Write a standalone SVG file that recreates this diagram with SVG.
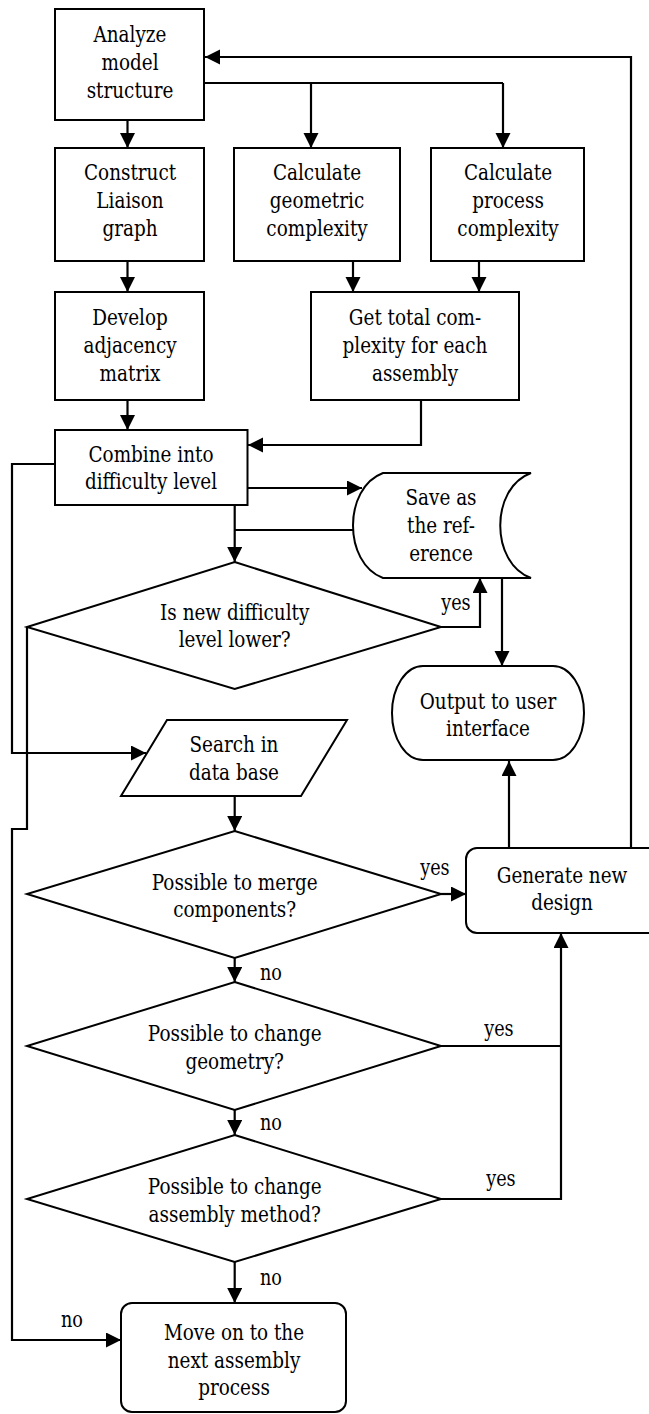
<svg xmlns="http://www.w3.org/2000/svg" width="649" height="1414" viewBox="0 0 649 1414">
  <defs>
    <marker id="arrow" markerUnits="userSpaceOnUse" markerWidth="16" markerHeight="16" refX="15" refY="7.5" orient="auto">
      <path d="M0,0 L15,7.5 L0,15 Z" fill="#000"/>
    </marker>
    <style>
      .box { fill: #fff; stroke: #000; stroke-width: 2; }
      .line { fill: none; stroke: #000; stroke-width: 2.2; }
      .arr { marker-end: url(#arrow); }
      text { font-family: "DejaVu Serif", "Liberation Serif", serif; font-size: 23px; fill: #000; text-anchor: middle;
             transform-box: fill-box; transform-origin: center; transform: scaleX(0.8); }
      .lbl { font-size: 22px; }
    </style>
  </defs>
  <rect width="649" height="1414" fill="#fff"/>

  <!-- connectors -->
  <g id="connectors">
    <path class="line arr" d="M127.5,120 V148"/>
    <path class="line" d="M204,83 H503"/>
    <path class="line arr" d="M503,83 V148"/>
    <path class="line arr" d="M311,83 V148"/>
    <path class="line arr" d="M631,848 V57 H205"/>
    <path class="line arr" d="M127.5,261 V292"/>
    <path class="line arr" d="M353,261 V292"/>
    <path class="line arr" d="M479,261 V292"/>
    <path class="line arr" d="M127.5,400 V430"/>
    <path class="line arr" d="M421,400 V445 H248"/>
    <path class="line arr" d="M248,488 H362"/>
    <path class="line arr" d="M234.7,505 V562"/>
    <path class="line" d="M353,530 H234.7"/>
    <path class="line arr" d="M441,627 H480 V578"/>
    <path class="line arr" d="M502,578 V666"/>
    <path class="line arr" d="M55,464 H12 V753 H146"/>
    <path class="line arr" d="M27,627 V829 H12 V1340 H121"/>
    <path class="line arr" d="M234.7,796 V831"/>
    <path class="line arr" d="M441,894 H466"/>
    <path class="line arr" d="M509,848 V761"/>
    <path class="line arr" d="M234.7,958 V982"/>
    <path class="line" d="M441,1046 H561"/>
    <path class="line arr" d="M441,1199 H561 V933"/>
    <path class="line arr" d="M234.7,1110 V1135"/>
    <path class="line arr" d="M234.7,1262 V1303"/>
    <text class="lbl" x="456" y="610">yes</text>
    <text class="lbl" x="435" y="875">yes</text>
    <text class="lbl" x="499" y="1036">yes</text>
    <text class="lbl" x="501" y="1186">yes</text>
    <text class="lbl" x="271" y="980">no</text>
    <text class="lbl" x="271" y="1130">no</text>
    <text class="lbl" x="271" y="1285">no</text>
    <text class="lbl" x="72" y="1327">no</text>
  </g>

  <g id="analyze">
    <rect class="box" x="55" y="9" width="149" height="111"/>
    <text x="130" y="42">Analyze</text>
    <text x="130" y="70">model</text>
    <text x="130" y="98">structure</text>
  </g>

  <g id="construct">
    <rect class="box" x="55" y="148" width="149" height="113"/>
    <text x="130" y="180">Construct</text>
    <text x="130" y="208">Liaison</text>
    <text x="130" y="236">graph</text>
  </g>

  <g id="calc-geometric">
    <rect class="box" x="234" y="148" width="166" height="113"/>
    <text x="317" y="180">Calculate</text>
    <text x="317" y="208">geometric</text>
    <text x="317" y="236">complexity</text>
  </g>

  <g id="calc-process">
    <rect class="box" x="431" y="148" width="153" height="113"/>
    <text x="508" y="180">Calculate</text>
    <text x="508" y="208">process</text>
    <text x="508" y="236">complexity</text>
  </g>

  <g id="develop">
    <rect class="box" x="55" y="292" width="149" height="108"/>
    <text x="130" y="325">Develop</text>
    <text x="130" y="353">adjacency</text>
    <text x="130" y="381">matrix</text>
  </g>

  <g id="total">
    <rect class="box" x="311" y="292" width="208" height="108"/>
    <text x="415" y="325">Get total com-</text>
    <text x="415" y="353">plexity for each</text>
    <text x="415" y="381">assembly</text>
  </g>

  <g id="combine">
    <rect class="box" x="55" y="430" width="192.5" height="75"/>
    <text x="151" y="462">Combine into</text>
    <text x="151" y="489">difficulty level</text>
  </g>

  <g id="save">
    <path class="box" d="M383,473 H531 C490,488 490,563 531,578 H383 C343,563 343,488 383,473 Z"/>
    <text x="441" y="505">Save as</text>
    <text x="441" y="533">the ref-</text>
    <text x="441" y="561">erence</text>
  </g>

  <g id="decision-lower">
    <polygon class="box" points="234.7,562 441,627 234.7,689 27,627"/>
    <text x="234.7" y="620">Is new difficulty</text>
    <text x="234.7" y="647">level lower?</text>
  </g>

  <g id="output">
    <rect class="box" x="392" y="666" width="192" height="94" rx="31" ry="47"/>
    <text x="488" y="709">Output to user</text>
    <text x="488" y="736">interface</text>
  </g>

  <g id="search">
    <polygon class="box" points="167,720 347,720 301,796 121,796"/>
    <text x="234" y="752">Search in</text>
    <text x="234" y="780">data base</text>
  </g>

  <g id="decision-merge">
    <polygon class="box" points="234.7,831 441,894 234.7,958 27,894"/>
    <text x="234.7" y="890">Possible to merge</text>
    <text x="234.7" y="917">components?</text>
  </g>

  <g id="generate">
    <rect class="box" x="466" y="848" width="200" height="85" rx="11" ry="11"/>
    <text x="562" y="883">Generate new</text>
    <text x="562" y="910">design</text>
  </g>

  <g id="decision-geometry">
    <polygon class="box" points="234.7,982 441,1046 234.7,1110 27,1046"/>
    <text x="234.7" y="1041">Possible to change</text>
    <text x="234.7" y="1069">geometry?</text>
  </g>

  <g id="decision-method">
    <polygon class="box" points="234.7,1135 441,1199 234.7,1262 27,1199"/>
    <text x="234.7" y="1194">Possible to change</text>
    <text x="234.7" y="1222">assembly method?</text>
  </g>

  <g id="next-process">
    <rect class="box" x="121" y="1303" width="225" height="109" rx="11" ry="11"/>
    <text x="234" y="1340">Move on to the</text>
    <text x="234" y="1368">next assembly</text>
    <text x="234" y="1395">process</text>
  </g>
</svg>
